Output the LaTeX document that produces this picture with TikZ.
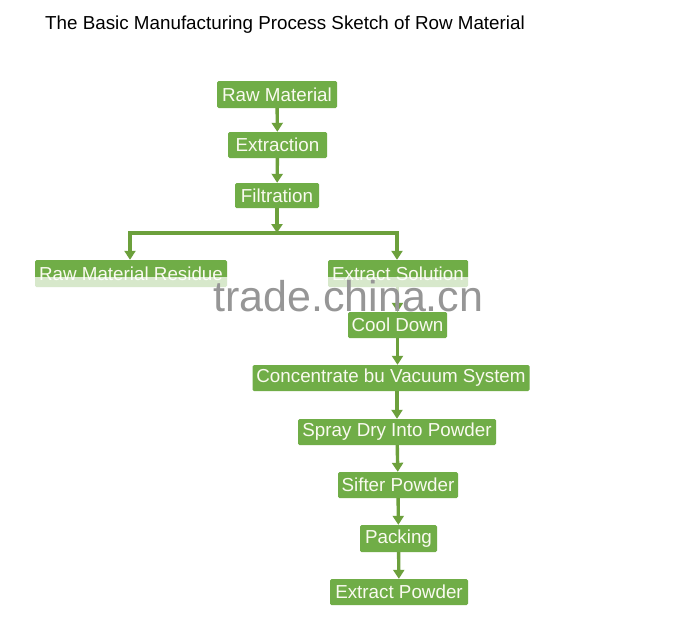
\documentclass[tikz,border=0pt]{standalone}
\usepackage{fontspec}
\setmainfont{Liberation Sans}
\usetikzlibrary{arrows.meta}
\definecolor{boxgreen}{RGB}{112,173,71}
\definecolor{arrgreen}{RGB}{108,160,60}
\definecolor{wmgray}{RGB}{150,150,150}
\begin{document}
\begin{tikzpicture}[x=1pt,y=-1pt,
  box/.style={fill=boxgreen, text={rgb,255:red,250;green,250;blue,240}, font=\fontsize{18.8}{18.8}\selectfont,
    inner sep=0pt, rounded corners=1.5pt, anchor=center},
  flow/.style={draw=arrgreen, line width=3.4pt, -{Triangle[width=11pt,length=9pt]}},
  barline/.style={draw=arrgreen, line width=3.4pt}]
\useasboundingbox (0,0) rectangle (695,616);
\fill[white] (0,0) rectangle (695,616);
\node[anchor=base west, inner sep=0pt, font=\fontsize{18.8}{18.8}\selectfont] (title) at (45,29) {The Basic Manufacturing Process Sketch of Row Material};

\node[box, minimum width=120pt, minimum height=27pt] (raw) at (277,94.5) {Raw Material};
\node[box, minimum width=99pt, minimum height=26pt] (ext) at (277.5,145) {Extraction};
\node[box, minimum width=84pt, minimum height=25pt] (fil) at (277,195.5) {Filtration};
\node[box, minimum width=192pt, minimum height=27pt] (res) at (131,273.5) {Raw Material Residue};
\node[box, minimum width=140pt, minimum height=27pt] (sol) at (398,273.5) {Extract Solution};
\node[box, minimum width=99pt, minimum height=26pt] (cool) at (397.5,325) {Cool Down};
\node[box, minimum width=277pt, minimum height=26pt] (conc) at (391,378) {Concentrate bu Vacuum System};
\node[box, minimum width=198pt, minimum height=26pt] (spray) at (397,432) {Spray Dry Into Powder};
\node[box, minimum width=120pt, minimum height=26pt] (sift) at (398,485) {Sifter Powder};
\node[box, minimum width=77pt, minimum height=27pt] (pack) at (398.5,538.5) {Packing};
\node[box, minimum width=138pt, minimum height=26pt] (prod) at (399,592) {Extract Powder};

\coordinate (barL) at (130,233);
\coordinate (barR) at (397,233);
\coordinate (barM) at (277,233);

\draw[flow] (raw) -- (ext);
\draw[flow] (ext) -- (fil);
\draw[flow] (fil) -- (barM);
\draw[barline] ([xshift=-1.7pt]barL) -- ([xshift=1.7pt]barR);
\draw[flow] (barL) -- (barL |- res.north);
\draw[flow] (barR) -- (barR |- sol.north);
\draw[flow] (cool.north |- sol.south) -- (cool.north);
\draw[flow] (cool.south) -- (cool.south |- conc.north);
\draw[flow] (spray.north |- conc.south) -- (spray.north);
\draw[flow] (spray) -- (sift);
\draw[flow] (sift) -- (pack);
\draw[flow] (pack) -- (prod);

% watermark haze
\fill[white, opacity=0.72] (30,277) rectangle (475,298);
\node[anchor=base west, text=wmgray, font=\fontsize{43}{43}\selectfont, inner sep=0pt] (wm) at (213,311) {trade.china.cn};
\end{tikzpicture}
\end{document}
